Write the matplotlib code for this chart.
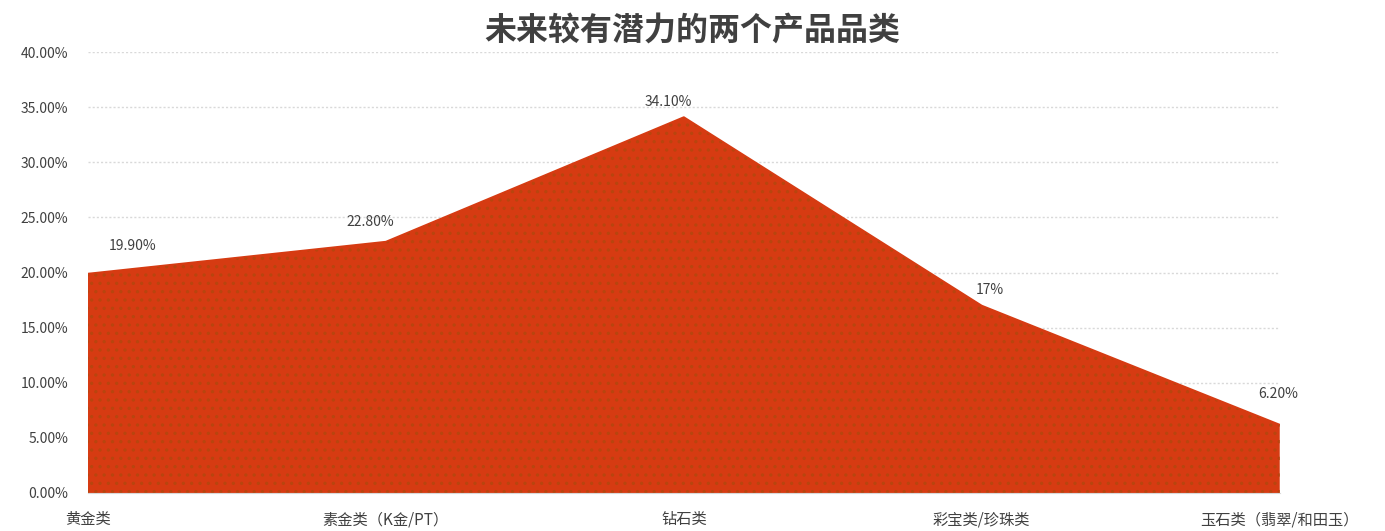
import matplotlib
matplotlib.use("Agg")
import matplotlib.pyplot as plt
from matplotlib.ticker import PercentFormatter

plt.rcParams['font.family'] = ['Noto Sans CJK SC', 'DejaVu Sans']
plt.rcParams['hatch.linewidth'] = 1.2

#-------------------------------------
# data
categories = ["黄金类", "素金类（K金/PT）", "钻石类", "彩宝类/珍珠类", "玉石类（翡翠/和田玉）"]
values = [19.9, 22.8, 34.1, 17.0, 6.2]
value_labels = ["19.90%", "22.80%", "34.10%", "17%", "6.20%"]
label_offsets = [(32, 20), (-11, 14), (-11, 11), (6, 11), (-1, 22)]
#-------------------------------------

fig = plt.figure(figsize=(13.85, 5.31), dpi=100)
ax = fig.add_axes([0.0635, 0.0716, 0.8605, 0.8304])

xs = list(range(len(categories)))
ax.fill_between(xs, values, 0, facecolor="#D63B12", edgecolor="#B8450E",
                hatch="..", linewidth=0, zorder=2)
ax.plot(xs, values, color="#D63B12", linewidth=1.2, zorder=3)

for x, v, lab, off in zip(xs, values, value_labels, label_offsets):
    ax.annotate(lab, (x, v), xytext=off, textcoords="offset points",
                ha="center", va="center", fontsize=10, color="#404040")

ax.set_xlim(0, 4)
ax.set_ylim(0, 40)
ax.set_yticks([0, 5, 10, 15, 20, 25, 30, 35, 40])
ax.yaxis.set_major_formatter(PercentFormatter(decimals=2))
ax.set_xticks(xs)
ax.set_xticklabels(categories, fontsize=11, color="#404040")
ax.tick_params(axis="y", labelsize=10, labelcolor="#404040", length=0, pad=14)
ax.tick_params(axis="x", length=0, pad=13)

ax.grid(axis="y", color="#D9D9D9", linestyle=(0, (1.5, 1.5)), linewidth=1, zorder=0)
for s in ["left", "right", "top"]:
    ax.spines[s].set_visible(False)
ax.spines["bottom"].set_color("#D9D9D9")

fig.text(0.5, 0.943, "未来较有潜力的两个产品品类", ha="center", va="center",
         fontsize=23, color="#404040", fontweight="bold")

fig.savefig("out.png", dpi=100)
